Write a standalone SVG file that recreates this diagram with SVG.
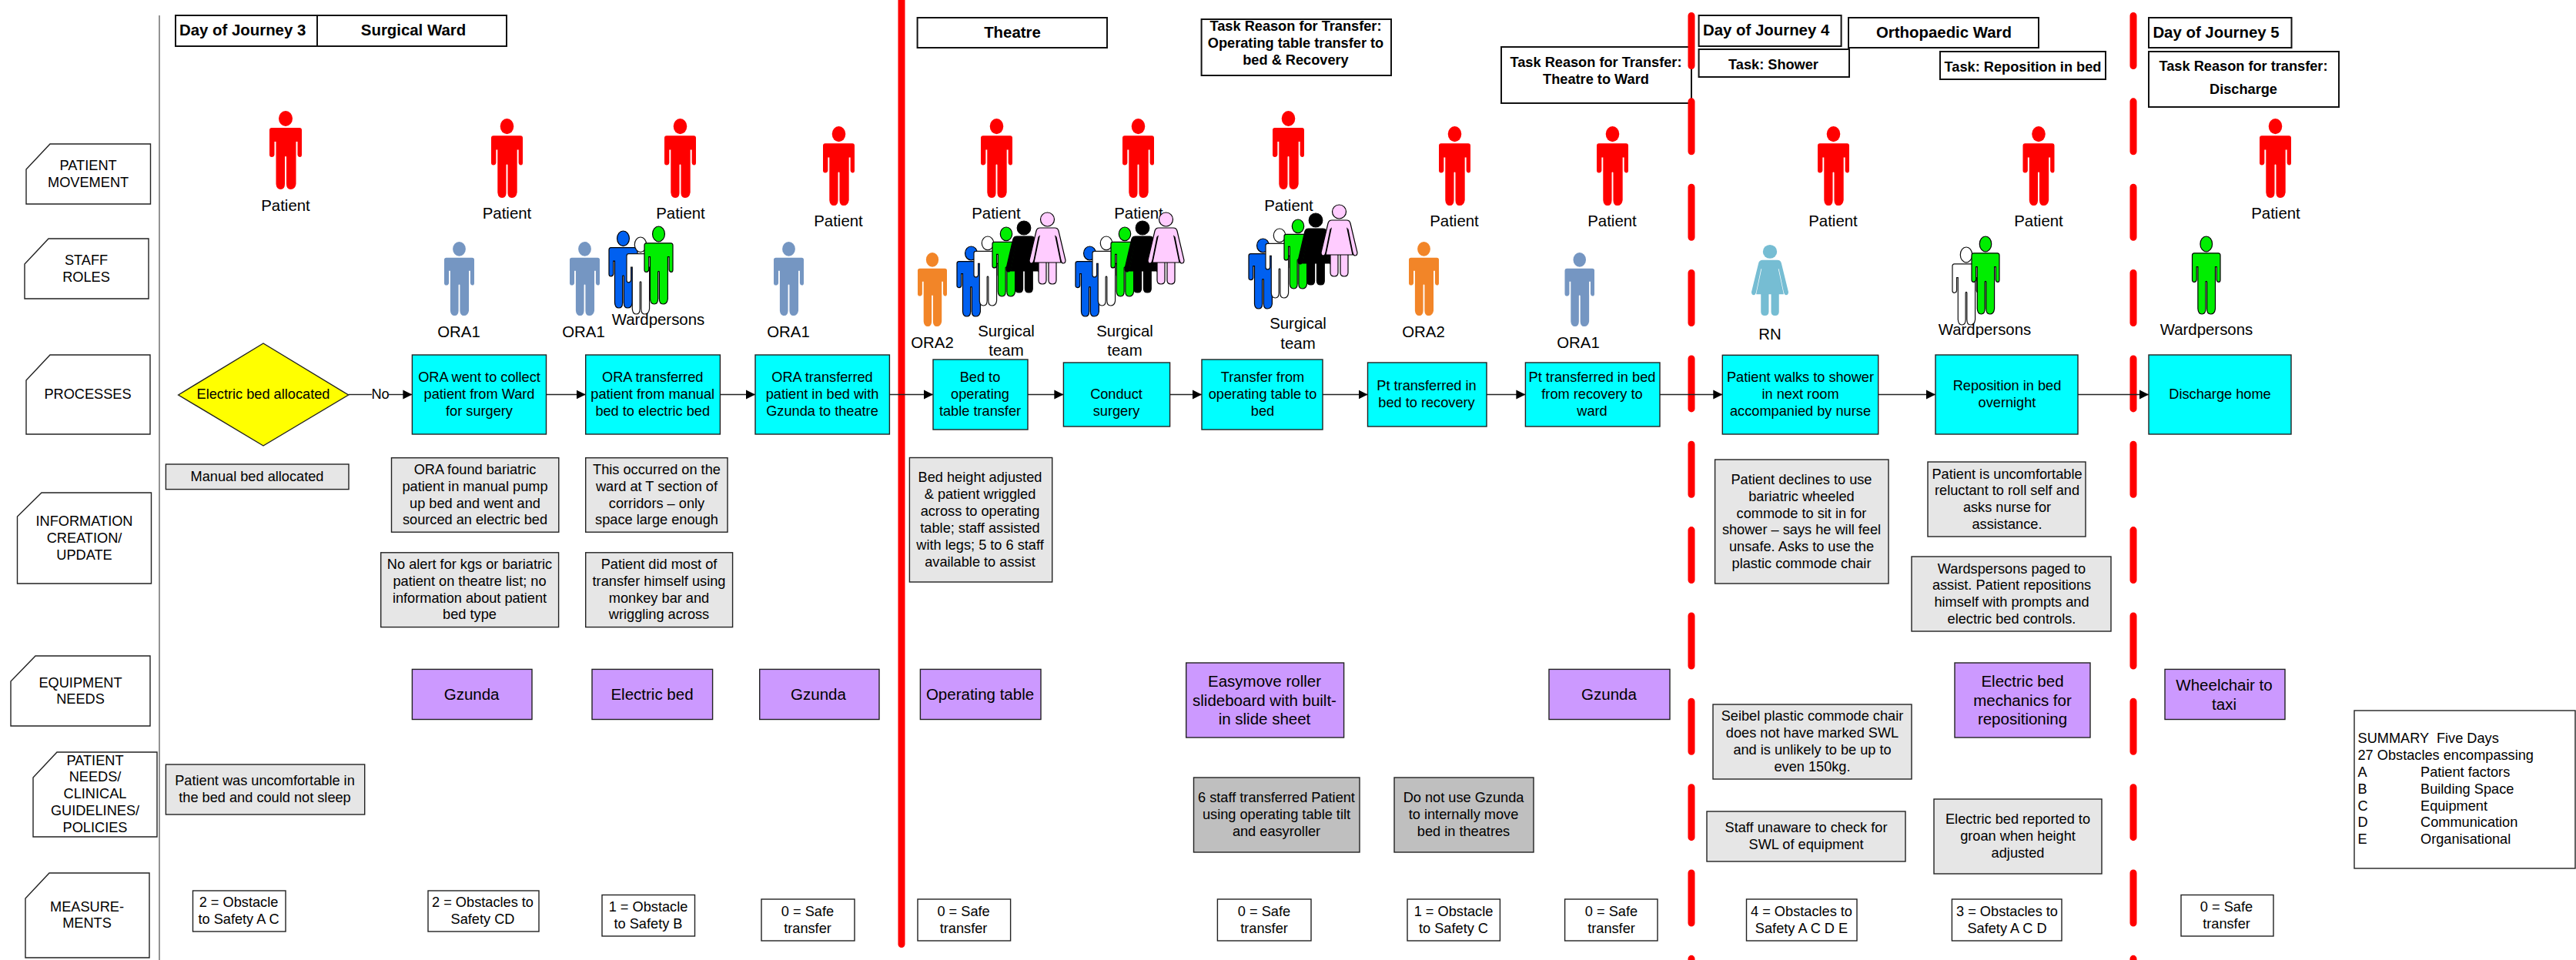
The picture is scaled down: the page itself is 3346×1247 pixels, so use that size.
<svg xmlns="http://www.w3.org/2000/svg" width="3346" height="1247" viewBox="0 0 3346 1247">
<style>
text{font-family:"Liberation Sans",Arial,sans-serif;font-size:18.2px;fill:#000;text-anchor:middle;dominant-baseline:central;white-space:pre}
.hd{font-weight:bold;font-size:20.4px}
.tk{font-weight:bold;font-size:18.2px}
.lbl{font-size:20.4px}
.eq{font-size:20.5px}
.st{text-anchor:start}
rect,polygon,.rl{stroke:#222;stroke-width:1.4;fill:#fff}
.h{stroke:#111;stroke-width:2}
.p{fill:#0ff}
.g{fill:#e6e6e6}
.d{fill:#bfbfbf}
.e{fill:#c9f}
.y{fill:#ff0}
.red{fill:#f00;stroke:none}
.ora1{fill:#7596c2;stroke:none}
.ora2{fill:#f28528;stroke:none}
.rn{fill:#76bdd3;stroke:none}
.blu{fill:#0060f0;stroke:#000}
.wht{fill:#fff;stroke:#111}
.grn{fill:#0e0;stroke:#000}
.blk{fill:#000;stroke:#000}
.pnk{fill:#fcf;stroke:#000}
.fp{vector-effect:non-scaling-stroke;stroke-width:1.2}
.cn{stroke:#222;stroke-width:1.4;fill:none;marker-end:url(#ah)}
.cn0{stroke:#222;stroke-width:1.4;fill:none}
.solid{stroke:#f00;stroke-width:9;stroke-linecap:round;fill:none}
.dash{stroke:#f00;stroke-width:9;stroke-linecap:round;stroke-dasharray:65 46.35;fill:none}
</style>
<defs>
<marker id="ah" markerUnits="userSpaceOnUse" markerWidth="13" markerHeight="14" refX="12" refY="7" orient="auto"><path d="M0 1L12 7L0 13Z" fill="#000"/></marker>
<symbol id="m" viewBox="0 0 42 102" preserveAspectRatio="none" overflow="visible">
<ellipse class="fp" cx="21" cy="10" rx="9" ry="10"/>
<path class="fp" d="M3 22H39Q42 22 42 25V57Q42 60 39.5 60Q37 60 36.5 57V40H34.5V95Q33.5 102 27.5 102Q22 102 22 95V60Q22 59 21 59Q20 59 20 60V95Q20 102 14.5 102Q9 102 8.5 95V40H6.5V57Q6 60 3 60Q0 60 0 57V25Q0 22 3 22Z"/>
</symbol>
<symbol id="f" viewBox="0 0 47 93" preserveAspectRatio="none" overflow="visible">
<ellipse class="fp" cx="23.5" cy="9" rx="9" ry="9"/>
<path class="fp" d="M12 64H22V88Q22 93 17 93Q12 93 12 88ZM25 64H35V88Q35 93 30 93Q25 93 25 88Z"/>
<path class="fp" d="M14 20H33Q37 20 38 24L47 62Q47 66 44 66Q42 66 41 62L35 32L34 31L41 65H6L13 31L12 32L6 62Q5 66 3 66Q0 66 0 62L9 24Q10 20 14 20Z"/>
</symbol>
</defs>
<g id="row-labels">
<g id="label-patient-movement"><path class="rl" d="M65 187H195.5V265H34V220Z"/><text x="114.6" y="214.7">PATIENT</text><text x="114.6" y="236.7">MOVEMENT</text></g>
<g id="label-staff-roles"><path class="rl" d="M63 310H193V388H32V343Z"/><text x="112" y="337.7">STAFF</text><text x="112" y="359.7">ROLES</text></g>
<g id="label-processes"><path class="rl" d="M65 461H195V564H34V494Z"/><text x="114" y="512">PROCESSES</text></g>
<g id="label-information"><path class="rl" d="M54 640H196.5V758H22.5V671Z"/><text x="109.5" y="676.7">INFORMATION</text><text x="109.5" y="698.7">CREATION/</text><text x="109.5" y="720.7">UPDATE</text></g>
<g id="label-equipment"><path class="rl" d="M46 852H195V943H14V885Z"/><text x="104.5" y="886.5">EQUIPMENT</text><text x="104.5" y="908">NEEDS</text></g>
<g id="label-patient-needs"><path class="rl" d="M74 977H204V1087H43V1010Z"/><text x="123.5" y="988">PATIENT</text><text x="123.5" y="1009">NEEDS/</text><text x="123.5" y="1031">CLINICAL</text><text x="123.5" y="1053">GUIDELINES/</text><text x="123.5" y="1075">POLICIES</text></g>
<g id="label-measurements"><path class="rl" d="M64 1134H194V1244H33V1167Z"/><text x="113" y="1177.6">MEASURE-</text><text x="113" y="1198.7">MENTS</text></g>
</g>
<line x1="207" y1="20" x2="207" y2="1247" stroke="#666" stroke-width="1.4"/>
<g id="headers">
<g id="hdr-day3"><rect class="h" x="228" y="20" width="184" height="40"/><text class="hd st" x="233" y="39">Day of Journey 3</text></g>
<g id="hdr-surgical"><rect class="h" x="412" y="20" width="246" height="40"/><text class="hd" x="537" y="39">Surgical Ward</text></g>
<g id="hdr-theatre"><rect class="h" x="1191.6" y="23" width="246.4" height="39"/><text class="hd" x="1315" y="42">Theatre</text></g>
<g id="hdr-task-bed-recovery"><rect class="h" x="1560.6" y="25" width="246.4" height="73"/><text class="tk" x="1683" y="34">Task Reason for Transfer:</text><text class="tk" x="1683" y="56">Operating table transfer to</text><text class="tk" x="1683" y="78">bed &amp; Recovery</text></g>
<g id="hdr-task-ward"><rect class="h" x="1950" y="61" width="247" height="73"/><text class="tk" x="2073" y="81">Task Reason for Transfer:</text><text class="tk" x="2073" y="103">Theatre to Ward</text></g>
<g id="hdr-day4"><rect class="h" x="2206.6" y="20" width="185" height="40"/><text class="hd st" x="2212" y="39">Day of Journey 4</text></g>
<g id="hdr-ortho"><rect class="h" x="2401" y="23" width="247" height="39"/><text class="hd" x="2525" y="42">Orthopaedic Ward</text></g>
<g id="hdr-shower"><rect class="h" x="2206.6" y="64" width="195.4" height="36"/><text class="tk" x="2303.5" y="84">Task: Shower</text></g>
<g id="hdr-reposition"><rect class="h" x="2520" y="67" width="215" height="36"/><text class="tk" x="2627.5" y="87">Task: Reposition in bed</text></g>
<g id="hdr-day5"><rect class="h" x="2791" y="23" width="185.5" height="39"/><text class="hd st" x="2796.4" y="42">Day of Journey 5</text></g>
<g id="hdr-discharge"><rect class="h" x="2791" y="67" width="247" height="72"/><text class="tk" x="2914" y="86">Task Reason for transfer:</text><text class="tk" x="2914" y="116">Discharge</text></g>
</g>
<g id="dividers">
<line class="solid" x1="1171" y1="-10" x2="1171" y2="1226.5"/>
<line class="dash" x1="2197" y1="20.5" x2="2197" y2="1247"/>
<line class="dash" x1="2771" y1="20.5" x2="2771" y2="1247"/>
</g>
<g id="connectors">
<line class="cn0" x1="452.6" y1="512.5" x2="483" y2="512.5"/>
<line class="cn" x1="505" y1="512.5" x2="535.4" y2="512.5"/>
<line class="cn" x1="709.5" y1="512.5" x2="760.7" y2="512.5"/>
<line class="cn" x1="935.4" y1="512.5" x2="981" y2="512.5"/>
<line class="cn" x1="1155.4" y1="512.5" x2="1212" y2="512.5"/>
<line class="cn" x1="1335" y1="512.5" x2="1381.4" y2="512.5"/>
<line class="cn" x1="1519.6" y1="512.5" x2="1561" y2="512.5"/>
<line class="cn" x1="1718" y1="512.5" x2="1776.5" y2="512.5"/>
<line class="cn" x1="1931" y1="512.5" x2="1981.4" y2="512.5"/>
<line class="cn" x1="2156" y1="512.5" x2="2237.3" y2="512.5"/>
<line class="cn" x1="2440" y1="512.5" x2="2514" y2="512.5"/>
<line class="cn" x1="2699" y1="512.5" x2="2791" y2="512.5"/>
<text x="494" y="512">No</text>
</g>
<g id="patients">
<g id="patient-1"><use href="#m" class="red" x="350" y="144" width="42" height="102"/><text class="lbl" x="371" y="267">Patient</text></g>
<g id="patient-2"><use href="#m" class="red" x="638" y="154" width="41" height="103"/><text class="lbl" x="658.5" y="277">Patient</text></g>
<g id="patient-3"><use href="#m" class="red" x="863" y="154" width="41" height="103"/><text class="lbl" x="884" y="277">Patient</text></g>
<g id="patient-4"><use href="#m" class="red" x="1069" y="164" width="41" height="103"/><text class="lbl" x="1089" y="287">Patient</text></g>
<g id="patient-5"><use href="#m" class="red" x="1274" y="154" width="41" height="103"/><text class="lbl" x="1294" y="277">Patient</text></g>
<g id="patient-6"><use href="#m" class="red" x="1458" y="154" width="41" height="103"/><text class="lbl" x="1479" y="277">Patient</text></g>
<g id="patient-7"><use href="#m" class="red" x="1653" y="144" width="41" height="102"/><text class="lbl" x="1674" y="267">Patient</text></g>
<g id="patient-8"><use href="#m" class="red" x="1869" y="164" width="41" height="103"/><text class="lbl" x="1889" y="287">Patient</text></g>
<g id="patient-9"><use href="#m" class="red" x="2074" y="164" width="41" height="103"/><text class="lbl" x="2094" y="287">Patient</text></g>
<g id="patient-10"><use href="#m" class="red" x="2361" y="164" width="41" height="103"/><text class="lbl" x="2381" y="287">Patient</text></g>
<g id="patient-11"><use href="#m" class="red" x="2627.5" y="164" width="41" height="103"/><text class="lbl" x="2648" y="287">Patient</text></g>
<g id="patient-12"><use href="#m" class="red" x="2935" y="154" width="41" height="103"/><text class="lbl" x="2956" y="277">Patient</text></g>
</g>
<g id="staff">
<g id="staff-ora1-a"><use href="#m" class="ora1" x="577" y="314" width="39" height="96"/><text class="lbl" x="596" y="431">ORA1</text></g>
<g id="staff-ora1-b"><use href="#m" class="ora1" x="740" y="314" width="39" height="96"/><text class="lbl" x="758" y="431">ORA1</text></g>
<g id="staff-wardpersons-a"><use href="#m" class="blu" x="791" y="300" width="37" height="100"/><use href="#m" class="wht" x="814" y="308" width="36" height="100"/><use href="#m" class="grn" x="837" y="294" width="37" height="101"/><text class="lbl" x="855" y="415">Wardpersons</text></g>
<g id="staff-ora1-c"><use href="#m" class="ora1" x="1005" y="314" width="39" height="96"/><text class="lbl" x="1024" y="431">ORA1</text></g>
<g id="staff-ora2-a"><use href="#m" class="ora2" x="1192" y="328" width="38" height="96"/><text class="lbl" x="1211" y="445">ORA2</text></g>
<g id="staff-surgical-a"><use href="#m" class="blu" x="1243" y="320" width="37" height="91"/><use href="#m" class="wht" x="1265" y="307" width="36" height="90"/><use href="#m" class="grn" x="1289" y="295" width="36" height="90"/><use href="#f" class="blk" x="1307" y="287" width="46" height="93"/><use href="#f" class="pnk" x="1337" y="276" width="47" height="93"/><text class="lbl" x="1307" y="430">Surgical</text><text class="lbl" x="1307" y="455">team</text></g>
<g id="staff-surgical-b"><use href="#m" class="blu" x="1397" y="320" width="37" height="91"/><use href="#m" class="wht" x="1419" y="307" width="36" height="90"/><use href="#m" class="grn" x="1443" y="295" width="36" height="90"/><use href="#f" class="blk" x="1461" y="287" width="46" height="93"/><use href="#f" class="pnk" x="1491" y="276" width="47" height="93"/><text class="lbl" x="1461" y="430">Surgical</text><text class="lbl" x="1461" y="455">team</text></g>
<g id="staff-surgical-c"><use href="#m" class="blu" x="1622" y="310" width="37" height="91"/><use href="#m" class="wht" x="1644" y="297" width="36" height="90"/><use href="#m" class="grn" x="1668" y="285" width="36" height="90"/><use href="#f" class="blk" x="1686" y="277" width="46" height="93"/><use href="#f" class="pnk" x="1716" y="266" width="47" height="93"/><text class="lbl" x="1686" y="420">Surgical</text><text class="lbl" x="1686" y="446">team</text></g>
<g id="staff-ora2-b"><use href="#m" class="ora2" x="1830" y="314" width="39" height="96"/><text class="lbl" x="1849" y="431">ORA2</text></g>
<g id="staff-ora1-d"><use href="#m" class="ora1" x="2032.5" y="328" width="38.5" height="96"/><text class="lbl" x="2050" y="445">ORA1</text></g>
<g id="staff-rn"><use href="#f" class="rn" x="2275" y="318" width="48" height="92"/><text class="lbl" x="2299" y="434">RN</text></g>
<g id="staff-wardpersons-b"><use href="#m" class="wht" x="2536" y="321" width="36" height="101"/><use href="#m" class="grn" x="2561" y="307" width="36" height="101"/><text class="lbl" x="2578" y="428">Wardpersons</text></g>
<g id="staff-wardpersons-c"><use href="#m" class="grn" x="2847.5" y="307" width="36.5" height="101"/><text class="lbl" x="2866" y="428">Wardpersons</text></g>
</g>
<g id="processes">
<g id="proc-decision"><polygon class="y" points="231.6,513 342,446 452.6,513 342,579"/><text x="342" y="512">Electric bed allocated</text></g>
<g id="proc-1"><rect class="p" x="535.4" y="461" width="174.1" height="103"/><text x="622.5" y="490">ORA went to collect</text><text x="622.5" y="512">patient from Ward</text><text x="622.5" y="534">for surgery</text></g>
<g id="proc-2"><rect class="p" x="760.7" y="461" width="174.7" height="103"/><text x="847.7" y="490">ORA transferred</text><text x="847.7" y="512">patient from manual</text><text x="847.7" y="534">bed to electric bed</text></g>
<g id="proc-3"><rect class="p" x="981" y="461" width="174.4" height="103"/><text x="1068" y="490">ORA transferred</text><text x="1068" y="512">patient in bed with</text><text x="1068" y="534">Gzunda to theatre</text></g>
<g id="proc-4"><rect class="p" x="1212" y="467" width="123" height="91"/><text x="1273" y="490">Bed to</text><text x="1273" y="512">operating</text><text x="1273" y="534">table transfer</text></g>
<g id="proc-5"><rect class="p" x="1381.4" y="471" width="138.2" height="83"/><text x="1450" y="512">Conduct</text><text x="1450" y="534">surgery</text></g>
<g id="proc-6"><rect class="p" x="1561" y="467" width="157" height="91"/><text x="1640" y="490">Transfer from</text><text x="1640" y="512">operating table to</text><text x="1640" y="534">bed</text></g>
<g id="proc-7"><rect class="p" x="1776.5" y="471" width="154.5" height="83"/><text x="1853" y="500.5">Pt transferred in</text><text x="1853" y="523">bed to recovery</text></g>
<g id="proc-8"><rect class="p" x="1981.4" y="471" width="174.6" height="83"/><text x="2068" y="490">Pt transferred in bed</text><text x="2068" y="512">from recovery to</text><text x="2068" y="534">ward</text></g>
<g id="proc-9"><rect class="p" x="2237.3" y="461.3" width="202.4" height="102.7"/><text x="2338.5" y="490">Patient walks to shower</text><text x="2338.5" y="512">in next room</text><text x="2338.5" y="534">accompanied by nurse</text></g>
<g id="proc-10"><rect class="p" x="2514" y="461" width="185" height="103"/><text x="2607" y="500.5">Reposition in bed</text><text x="2607" y="523">overnight</text></g>
<g id="proc-11"><rect class="p" x="2791" y="461" width="185" height="103"/><text x="2883.5" y="512">Discharge home</text></g>
</g>
<g id="information">
<g id="info-1"><rect class="g" x="215.4" y="603" width="237.6" height="32.6"/><text x="334" y="619">Manual bed allocated</text></g>
<g id="info-2"><rect class="g" x="508.5" y="594.7" width="217.3" height="96.5"/><text x="617" y="609.6">ORA found bariatric</text><text x="617" y="631.7">patient in manual pump</text><text x="617" y="653.7">up bed and went and</text><text x="617" y="675">sourced an electric bed</text></g>
<g id="info-3"><rect class="g" x="494.7" y="717.8" width="230.9" height="96.8"/><text x="610" y="733">No alert for kgs or bariatric</text><text x="610" y="755">patient on theatre list; no</text><text x="610" y="777">information about patient</text><text x="610" y="798">bed type</text></g>
<g id="info-4"><rect class="g" x="760.7" y="594.7" width="184.3" height="96.5"/><text x="853" y="609.6">This occurred on the</text><text x="853" y="631.7">ward at T section of</text><text x="853" y="653.7">corridors – only</text><text x="853" y="675">space large enough</text></g>
<g id="info-5"><rect class="g" x="760.7" y="717.8" width="190.9" height="96.8"/><text x="856" y="733">Patient did most of</text><text x="856" y="755">transfer himself using</text><text x="856" y="777">monkey bar and</text><text x="856" y="798">wriggling across</text></g>
<g id="info-6"><rect class="g" x="1181.4" y="594.5" width="185.3" height="161.5"/><text x="1273" y="620">Bed height adjusted</text><text x="1273" y="642">&amp; patient wriggled</text><text x="1273" y="664">across to operating</text><text x="1273" y="686">table; staff assisted</text><text x="1273" y="708">with legs; 5 to 6 staff</text><text x="1273" y="730">available to assist</text></g>
<g id="info-7"><rect class="g" x="2227.6" y="597" width="225.4" height="161"/><text x="2340" y="623">Patient declines to use</text><text x="2340" y="645">bariatric wheeled</text><text x="2340" y="667">commode to sit in for</text><text x="2340" y="688">shower – says he will feel</text><text x="2340" y="710">unsafe. Asks to use the</text><text x="2340" y="732">plastic commode chair</text></g>
<g id="info-8"><rect class="g" x="2504" y="600" width="205" height="97"/><text x="2607" y="616">Patient is uncomfortable</text><text x="2607" y="637">reluctant to roll self and</text><text x="2607" y="659">asks nurse for</text><text x="2607" y="681">assistance.</text></g>
<g id="info-9"><rect class="g" x="2483" y="723" width="259" height="97"/><text x="2613" y="739">Wardspersons paged to</text><text x="2613" y="760">assist. Patient repositions</text><text x="2613" y="782">himself with prompts and</text><text x="2613" y="804">electric bed controls.</text></g>
</g>
<g id="equipment">
<g id="eq-1"><rect class="e" x="535.4" y="869.4" width="155.6" height="65.1"/><text class="eq" x="612.6" y="901">Gzunda</text></g>
<g id="eq-2"><rect class="e" x="769" y="869.4" width="156.6" height="65.1"/><text class="eq" x="847" y="901">Electric bed</text></g>
<g id="eq-3"><rect class="e" x="986.7" y="869.4" width="155.3" height="65.1"/><text class="eq" x="1063" y="901">Gzunda</text></g>
<g id="eq-4"><rect class="e" x="1195.4" y="869.4" width="156.6" height="65.1"/><text class="eq" x="1273" y="901">Operating table</text></g>
<g id="eq-5"><rect class="e" x="1540.7" y="861" width="204.9" height="97"/><text class="eq" x="1642.5" y="884">Easymove roller</text><text class="eq" x="1642.5" y="909">slideboard with built-</text><text class="eq" x="1642.5" y="933.5">in slide sheet</text></g>
<g id="eq-6"><rect class="e" x="2012" y="869.4" width="157" height="65.1"/><text class="eq" x="2090" y="901">Gzunda</text></g>
<g id="eq-7"><rect class="e" x="2539" y="861" width="176" height="97"/><text class="eq" x="2627" y="884">Electric bed</text><text class="eq" x="2627" y="909">mechanics for</text><text class="eq" x="2627" y="933.5">repositioning</text></g>
<g id="eq-8"><rect class="e" x="2812" y="869.4" width="156" height="65.1"/><text class="eq" x="2889" y="889">Wheelchair to</text><text class="eq" x="2889" y="914.5">taxi</text></g>
</g>
<g id="needs">
<g id="need-1"><rect class="g" x="215.4" y="993" width="258.3" height="65"/><text x="344" y="1014">Patient was uncomfortable in</text><text x="344" y="1036">the bed and could not sleep</text></g>
<g id="need-2"><rect class="d" x="1550.5" y="1010" width="215.5" height="97"/><text x="1658" y="1036">6 staff transferred Patient</text><text x="1658" y="1058">using operating table tilt</text><text x="1658" y="1080">and easyroller</text></g>
<g id="need-3"><rect class="d" x="1811" y="1010" width="181" height="97"/><text x="1901" y="1036">Do not use Gzunda</text><text x="1901" y="1058">to internally move</text><text x="1901" y="1080">bed in theatres</text></g>
<g id="need-4"><rect class="g" x="2225" y="915" width="258" height="97"/><text x="2354" y="929.6">Seibel plastic commode chair</text><text x="2354" y="951.6">does not have marked SWL</text><text x="2354" y="974">and is unlikely to be up to</text><text x="2354" y="996">even 150kg.</text></g>
<g id="need-5"><rect class="g" x="2217" y="1054" width="258" height="65"/><text x="2346" y="1075">Staff unaware to check for</text><text x="2346" y="1097">SWL of equipment</text></g>
<g id="need-6"><rect class="g" x="2512" y="1038" width="218" height="97"/><text x="2621" y="1064">Electric bed reported to</text><text x="2621" y="1086">groan when height</text><text x="2621" y="1108">adjusted</text></g>
</g>
<g id="measurements">
<g id="m-1"><rect x="250.5" y="1157" width="120.5" height="53"/><text x="310" y="1172">2 = Obstacle</text><text x="310" y="1194">to Safety A C</text></g>
<g id="m-2"><rect x="556" y="1157" width="144" height="53"/><text x="627" y="1172">2 = Obstacles to</text><text x="627" y="1194">Safety CD</text></g>
<g id="m-3"><rect x="782" y="1162.5" width="120.5" height="53.5"/><text x="842" y="1178">1 = Obstacle</text><text x="842" y="1200">to Safety B</text></g>
<g id="m-4"><rect x="989" y="1168" width="121" height="54"/><text x="1049" y="1183.5">0 = Safe</text><text x="1049" y="1206">transfer</text></g>
<g id="m-5"><rect x="1192" y="1168" width="120.6" height="54"/><text x="1251.6" y="1183.5">0 = Safe</text><text x="1251.6" y="1206">transfer</text></g>
<g id="m-6"><rect x="1581.4" y="1168" width="121.6" height="54"/><text x="1642" y="1183.5">0 = Safe</text><text x="1642" y="1206">transfer</text></g>
<g id="m-7"><rect x="1828" y="1168" width="120.4" height="54"/><text x="1888" y="1183.5">1 = Obstacle</text><text x="1888" y="1206">to Safety C</text></g>
<g id="m-8"><rect x="2032.6" y="1168" width="120.4" height="54"/><text x="2093" y="1183.5">0 = Safe</text><text x="2093" y="1206">transfer</text></g>
<g id="m-9"><rect x="2268.5" y="1168" width="143.5" height="54"/><text x="2340" y="1183.5">4 = Obstacles to</text><text x="2340" y="1206">Safety A C D E</text></g>
<g id="m-10"><rect x="2535.4" y="1168" width="142.6" height="54"/><text x="2607" y="1183.5">3 = Obstacles to</text><text x="2607" y="1206">Safety A C D</text></g>
<g id="m-11"><rect x="2833" y="1162.5" width="120" height="53.5"/><text x="2892" y="1178">0 = Safe</text><text x="2892" y="1200">transfer</text></g>
</g>
<g id="summary"><rect x="3058" y="923" width="287" height="205"/>
<text class="st" x="3062.5" y="959">SUMMARY  Five Days</text><text class="st" x="3062.5" y="981">27 Obstacles encompassing</text>
<text class="st" x="3062.5" y="1003">A</text><text class="st" x="3144" y="1003">Patient factors</text>
<text class="st" x="3062.5" y="1025">B</text><text class="st" x="3144" y="1025">Building Space</text>
<text class="st" x="3062.5" y="1046.5">C</text><text class="st" x="3144" y="1046.5">Equipment</text>
<text class="st" x="3062.5" y="1068">D</text><text class="st" x="3144" y="1068">Communication</text>
<text class="st" x="3062.5" y="1090">E</text><text class="st" x="3144" y="1090">Organisational</text></g>
</svg>
